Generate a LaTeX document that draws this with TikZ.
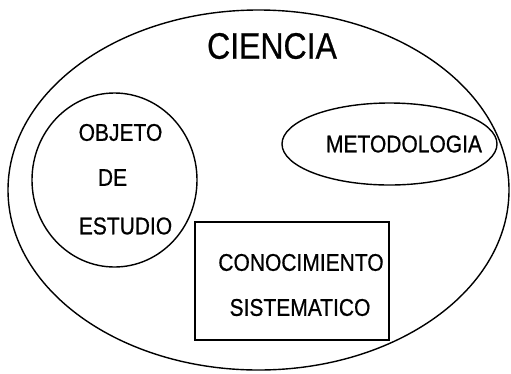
\documentclass[tikz,border=0pt]{standalone}
\usepackage{fontspec}
\setmainfont{Liberation Sans}
\newfontface\embfont{Liberation Sans}[FakeBold=0.7]
\usetikzlibrary{shapes.geometric}
\begin{document}
\begin{tikzpicture}[x=1pt,y=-1pt,
  shapeline/.style={draw=black,line width=1.4pt},
  lbl/.style={inner sep=0pt,font=\embfont\fontsize{21}{24}\selectfont},
  big/.style={inner sep=0pt,font=\embfont\fontsize{32}{36}\selectfont}]
\useasboundingbox (0,0) rectangle (511,373);
\draw[shapeline] (258.5,190) ellipse [x radius=250.5, y radius=180];
\draw[shapeline] (114.5,180) ellipse [x radius=82.5, y radius=87];
\draw[shapeline] (389.5,144) ellipse [x radius=107.5, y radius=41];
\draw[shapeline] (195,222) rectangle (389,340);
\node[big] (ciencia) at (272,46) {\scalebox{1}[1.15]{CIENCIA}};
\node[lbl] (objeto) at (120.5,132.5) {\scalebox{1}[1.15]{OBJETO}};
\node[lbl] (de) at (112.5,177.5) {\scalebox{1}[1.15]{DE}};
\node[lbl] (estudio) at (125.5,226) {\scalebox{1}[1.15]{ESTUDIO}};
\node[lbl] (metodo) at (404,144) {\scalebox{1}[1.15]{METODOLOGIA}};
\node[lbl] (conoc) at (301,262.5) {\scalebox{1}[1.15]{CONOCIMIENTO}};
\node[lbl] (sist) at (300,307.5) {\scalebox{1}[1.15]{SISTEMATICO}};
\end{tikzpicture}
\end{document}
